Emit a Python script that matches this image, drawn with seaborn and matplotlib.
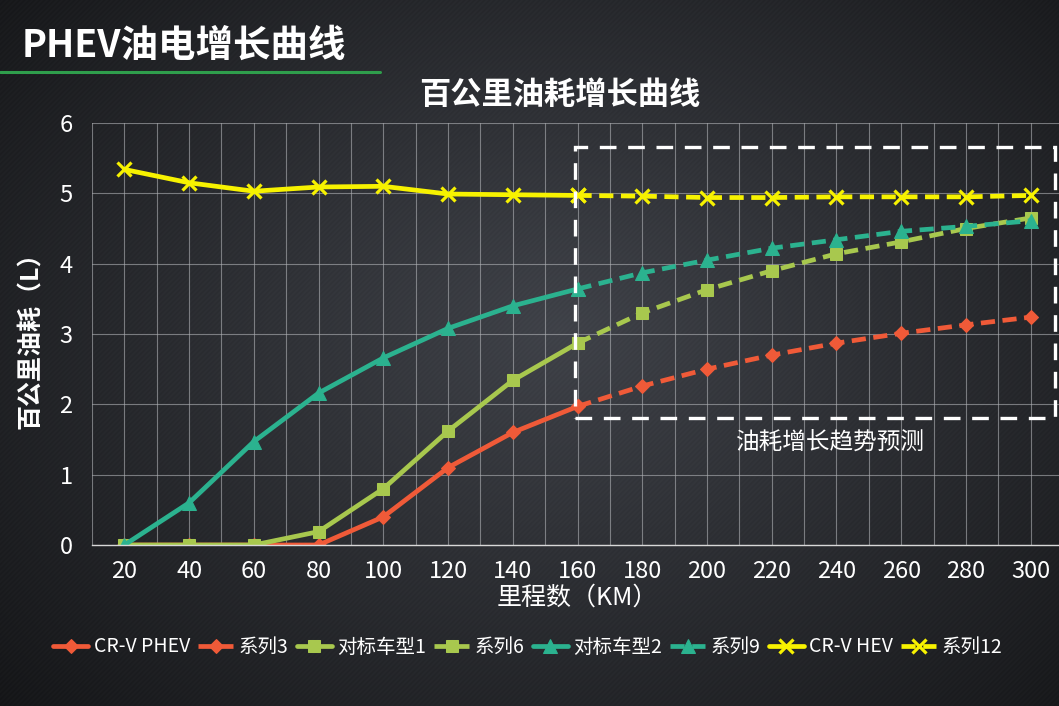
import numpy as np
import pandas as pd
import matplotlib
matplotlib.use("Agg")
import matplotlib.pyplot as plt
import seaborn as sns
from matplotlib.patches import Rectangle

# 数据：里程（km）与百公里油耗（L）
km = [20, 40, 60, 80, 100, 120, 140, 160, 180, 200, 220, 240, 260, 280, 300]
km_actual = km[:8]
km_forecast = km[7:]

phev_actual = [0, 0, 0, 0, 0.40, 1.10, 1.60, 1.97]
phev_forecast = [1.97, 2.26, 2.50, 2.70, 2.87, 3.01, 3.13, 3.24]
rival1_actual = [0, 0, 0, 0.19, 0.80, 1.62, 2.34, 2.87]
rival1_forecast = [2.87, 3.30, 3.63, 3.90, 4.14, 4.31, 4.50, 4.65]
rival2_actual = [0, 0.60, 1.47, 2.16, 2.66, 3.08, 3.40, 3.64]
rival2_forecast = [3.64, 3.87, 4.05, 4.22, 4.34, 4.46, 4.53, 4.61]
hev_actual = [5.34, 5.15, 5.03, 5.09, 5.10, 4.99, 4.98, 4.97]
hev_forecast = [4.97, 4.96, 4.94, 4.94, 4.95, 4.95, 4.95, 4.97]

series = [
    ("CR-V PHEV", "系列3", phev_actual, phev_forecast, "#f05a38", "D", 7.5),
    ("对标车型1", "系列6", rival1_actual, rival1_forecast, "#a8c84e", "s", 8.5),
    ("对标车型2", "系列9", rival2_actual, rival2_forecast, "#2bb28f", "^", 9.5),
    ("CR-V HEV", "系列12", hev_actual, hev_forecast, "#f7f200", "x", 9.5),
]

sns.set_theme(style="dark")
plt.rcParams['font.family'] = ['Noto Sans CJK SC', 'DejaVu Sans']
plt.rcParams['axes.unicode_minus'] = False

fig = plt.figure(figsize=(10.59, 7.06), dpi=100)

# 深色渐变背景
bg = fig.add_axes([0, 0, 1, 1], zorder=-10)
h, w = 706, 1059
yy, xx = np.mgrid[0:h, 0:w]
r = np.sqrt(((xx - 560) / 700) ** 2 + ((yy - 330) / 520) ** 2)
v = 0.26 - 0.16 * np.clip(r, 0, 1.2)
v = v + 0.008 * np.sin((xx + yy) * 2 * np.pi / 5)
img = np.dstack([v * 0.96, v * 1.0, v * 1.1])
bg.imshow(np.clip(img, 0, 1), aspect="auto", extent=[0, 1, 0, 1])
bg.axis("off")

ax = fig.add_axes([92 / 1059, 1 - 545 / 706, 971 / 1059, 422 / 706])
ax.set_facecolor("none")

for name_a, name_f, ya, yf, color, mk, ms in series:
    mew = 2.3 if mk == "x" else 0.75
    sns.lineplot(x=km_actual, y=ya, ax=ax, color=color, marker=mk, markersize=ms,
                 markeredgecolor=color, markeredgewidth=mew, linewidth=3.4,
                 errorbar=None, label=name_a)
    sns.lineplot(x=km_forecast, y=yf, ax=ax, color=color, marker=mk, markersize=ms,
                 markeredgecolor=color, markeredgewidth=mew, linewidth=3.4,
                 linestyle=(0, (3, 1.6)), errorbar=None, label=name_f)

ax.set_xlim(10, 310)
ax.set_ylim(0, 6)
ax.set_xticks(km)
ax.set_xticks(np.arange(10, 311, 20), minor=True)
ax.set_yticks(range(0, 7))
ax.grid(True, which="both", axis="x", color="#b0b2b6", linewidth=0.8, alpha=0.6)
ax.grid(True, which="major", axis="y", color="#b0b2b6", linewidth=0.8, alpha=0.6)
ax.set_axisbelow(True)
for s in ["top", "right", "left"]:
    ax.spines[s].set_visible(False)
ax.spines["bottom"].set_color("#d8d8d8")
ax.spines["bottom"].set_linewidth(1.0)
ax.tick_params(axis="both", which="both", length=0, colors="white", labelsize=17)
ax.tick_params(axis="x", pad=11)
ax.tick_params(axis="y", pad=14)

ax.set_xlabel("里程数（KM）", color="white", fontsize=18, labelpad=1)
ax.set_ylabel("百公里油耗（L）", color="white", fontsize=18, fontweight="bold", labelpad=12)

# 预测区虚线框
box = Rectangle((0.497, 0.301), 0.495, 0.642, transform=ax.transAxes, fill=False,
                edgecolor="white", linewidth=2.4, linestyle=(0, (5, 3.5)),
                clip_on=False, zorder=5)
ax.add_patch(box)
ax.text(0.761, 0.242, "油耗增长趋势预测", transform=ax.transAxes, color="white",
        fontsize=17, ha="center", va="center")

ax.legend_.remove()
handles, labels = ax.get_legend_handles_labels()
leg = fig.legend(handles, labels, loc="center", bbox_to_anchor=(528 / 1059, 1 - 647 / 706),
                 ncol=8, frameon=False, fontsize=14, handlelength=1.8,
                 handletextpad=0.3, columnspacing=0.4, labelcolor="white")

fig.text(22 / 1059, 1 - 45 / 706, "PHEV油电增长曲线", color="white", fontsize=27,
         fontweight="bold", ha="left", va="center")
fig.add_artist(plt.Line2D([0, 380 / 1059], [1 - 72 / 706] * 2, color="#2f9e4c",
                          linewidth=2.2, transform=fig.transFigure))
fig.text(560 / 1059, 1 - 95 / 706, "百公里油耗增长曲线", color="white", fontsize=22.5,
         fontweight="bold", ha="center", va="center")

fig.savefig("out.png", dpi=100)
